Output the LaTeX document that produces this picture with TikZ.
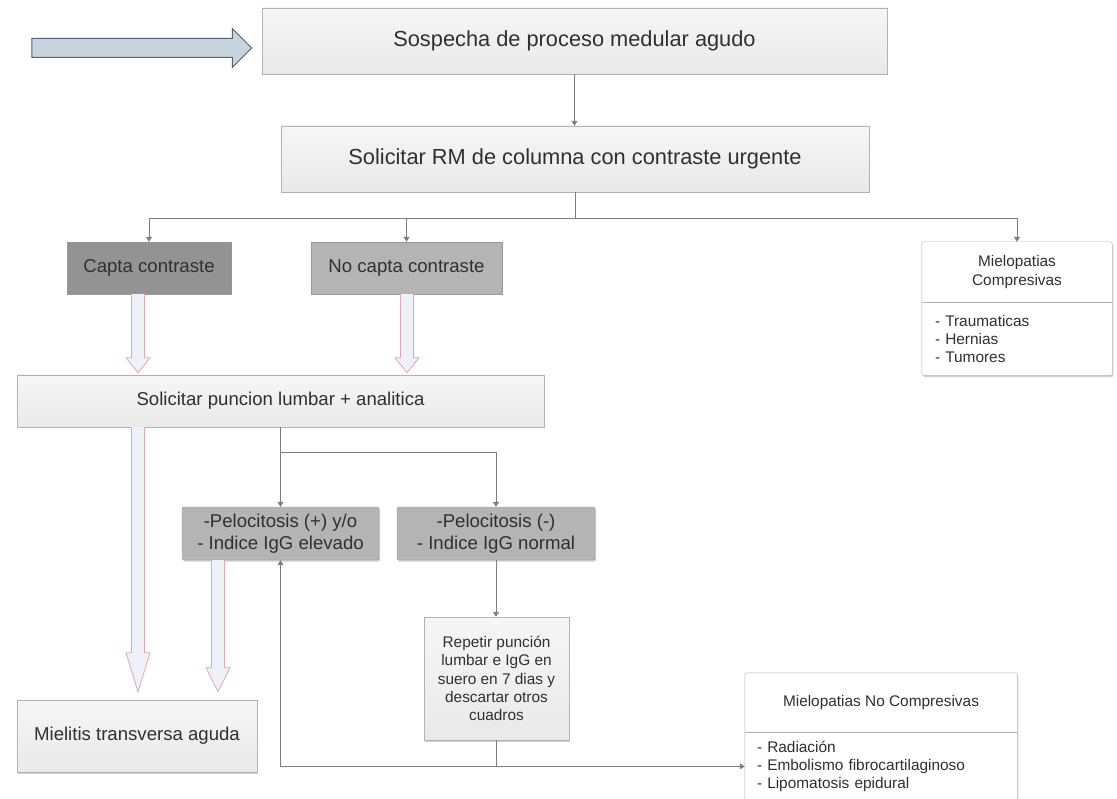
\documentclass[tikz,border=0pt]{standalone}
\usepackage{fontspec}
\setmainfont{Liberation Sans}
\usetikzlibrary{arrows.meta,calc,shadows,shapes.arrows,backgrounds}

\definecolor{boxtop}{HTML}{F6F6F6}
\definecolor{boxbot}{HTML}{E9E9E9}
\definecolor{boxline}{HTML}{B2B2B2}
\definecolor{darkfill}{HTML}{939393}
\definecolor{midfill}{HTML}{B4B4B4}
\definecolor{txt}{HTML}{303030}
\definecolor{conncol}{HTML}{7E7E7E}
\definecolor{pinkline}{HTML}{E8A3BA}
\definecolor{shaftfill}{HTML}{EEF1F7}
\definecolor{bluefill}{HTML}{C8D3DD}
\definecolor{blueline}{HTML}{56607C}

\tikzset{
  softshadow/.style={drop shadow={shadow xshift=1.2pt, shadow yshift=-1.5pt, opacity=0.18, fill=black}},
  box/.style={draw=boxline, top color=boxtop, bottom color=boxbot, text=txt, align=center, inner sep=0pt, softshadow},
  greybox/.style={draw=boxline!85!black, fill=#1, text=txt, align=center, inner sep=0pt, softshadow},
  bigtext/.style={font=\fontsize{21.8}{26}\selectfont},
  midtext/.style={font=\fontsize{18.6}{22}\selectfont},
  smalltext/.style={font=\fontsize{15.4}{18.4}\selectfont},
  plain/.style={smalltext, text=txt, inner sep=0pt},
  frame/.style={draw=boxline, fill=white, rounded corners=2pt, softshadow},
  conn/.style={draw=conncol, line width=0.8pt, -{Triangle[width=6pt,length=5pt]}},
  hollow/.style={draw=pinkline, fill=shaftfill, line width=0.8pt}
}

\begin{document}
\begin{tikzpicture}[x=1pt,y=-1pt]
\useasboundingbox (0,0) rectangle (1117,799);

%%% entry arrow
\node[single arrow, draw=blueline, fill=bluefill, line width=1pt, minimum height=220pt, inner sep=9pt, single arrow head extend=10pt, single arrow tip angle=90] (entrada) at (137,48) {};

%%% main boxes
\node[box,bigtext,minimum width=625pt,minimum height=66pt] (sospecha) at (574.5,41) {Sospecha de proceso medular agudo};
\node[box,bigtext,minimum width=588pt,minimum height=66pt] (rm) at (575,159) {Solicitar RM de columna con contraste urgente};
\node[greybox=darkfill,midtext,minimum width=164pt,minimum height=52pt] (capta) at (149,268) {Capta contraste};
\node[greybox=midfill,midtext,minimum width=191pt,minimum height=52pt] (nocapta) at (406.5,268) {No capta contraste};
\node[box,midtext,minimum width=527pt,minimum height=52pt] (puncion) at (280.5,401) {Solicitar puncion lumbar + analitica};
\node[greybox=midfill,midtext,rounded corners=1.5pt,minimum width=197pt,minimum height=53pt] (pelplus) at (280.5,533.5) {-Pelocitosis (+) y/o\\- Indice IgG elevado};
\node[greybox=midfill,midtext,rounded corners=1.5pt,minimum width=198pt,minimum height=53pt] (pelminus) at (496,533.5) {-Pelocitosis (-)\\- Indice IgG normal};
\node[box,smalltext,minimum width=145pt,minimum height=123pt] (repetir) at (496.5,678.5) {Repetir punción\\lumbar e IgG en\\suero en 7 dias y\\descartar otros\\cuadros};
\node[box,midtext,minimum width=240pt,minimum height=72pt] (mielitis) at (137,736) {Mielitis transversa aguda};

%%% two-part boxes
\node[plain,align=center,minimum width=190pt,minimum height=60pt] (comp) at (1017,272) {Mielopatias\\Compresivas};
\node[plain,align=left,text width=164pt,inner xsep=13pt,minimum height=73pt,anchor=north] (complist) at (comp.south) {- Traumaticas\\- Hernias\\- Tumores};
\node[plain,align=center,minimum width=272pt,minimum height=59pt] (nocomp) at (881,702.5) {Mielopatias No Compresivas};
\node[plain,align=left,text width=248pt,inner xsep=12pt,minimum height=68pt,anchor=north] (nocomplist) at (nocomp.south) {- Radiación\\- Embolismo fibrocartilaginoso\\- Lipomatosis epidural};
\begin{scope}[on background layer]
\foreach \head/\body in {comp/complist, nocomp/nocomplist}{
  \draw[frame] (\head.north west) rectangle (\body.south east);
  \draw[draw=boxline] (\body.north west) -- (\body.north east);}
\end{scope}

%%% thin connectors
\draw[conn] (sospecha.south) -- (sospecha.south |- rm.north);
\foreach \target in {capta,nocapta,comp}
  \draw[conn] (rm.south) -- ++(0,26) -| (\target.north);
\foreach \target in {pelplus,pelminus}
  \draw[conn] (puncion.south) -- ++(0,25) -| (\target.north);
\draw[conn] (pelminus.south) -- (pelminus.south |- repetir.north);
\draw[conn] (repetir.south) |- (nocomplist.west);
\draw[conn] (repetir.south) |- (pelplus.south |- nocomplist.west) -- (pelplus.south);

%%% hollow arrows: from/to/xshift/head length/gap
\foreach \from/\to/\dx/\hl/\gap in {capta/puncion/-11/15/2, nocapta/puncion/0.5/15/2, puncion/mielitis/-142.5/39/8, pelplus/mielitis/-62.5/24/8}{
  \path ($(\from.south)+(\dx,0)$) coordinate (s) (\to.north -| s) coordinate (e);
  \draw[hollow] ($(s)+(-6.5,0)$) -- ($(e)+(-6.5,-\hl-\gap)$) -- ($(e)+(-12,-\hl-\gap)$) -- ($(e)+(0,-\gap)$) -- ($(e)+(12,-\hl-\gap)$) -- ($(e)+(6.5,-\hl-\gap)$) -- ($(s)+(6.5,0)$);}
\end{tikzpicture}
\end{document}
